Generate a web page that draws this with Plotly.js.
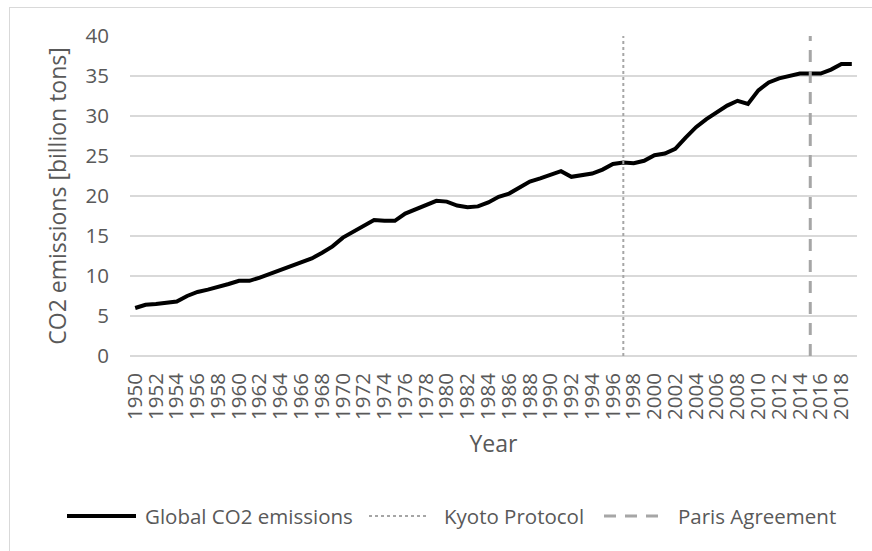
<!DOCTYPE html>
<html>
<head>
<meta charset="utf-8">
<script src="https://cdn.plot.ly/plotly-3.0.1.min.js"></script>
<style>
html,body{margin:0;padding:0;background:#fff;}
#wrap{position:relative;width:872px;height:551px;overflow:hidden;}
#chart{width:872px;height:551px;}
#frame{position:absolute;left:9px;top:7px;width:880px;height:560px;border:1px solid #d9d9d9;pointer-events:none;}
</style>
</head>
<body>
<div id="wrap"><div id="chart"></div><div id="frame"></div></div>
<script>
const years = [];
for (let y = 1950; y <= 2019; y++) years.push(y);
const emissions = [
  6.0, 6.4, 6.5, 6.6, 6.8, 7.5, 8.0, 8.3, 8.6, 9.0,
  9.4, 9.4, 9.8, 10.3, 10.8, 11.3, 11.8, 12.2, 12.9, 13.7,
  14.8, 15.5, 16.2, 17.0, 16.9, 16.9, 17.8, 18.3, 18.9, 19.4,
  19.3, 18.8, 18.6, 18.7, 19.2, 19.9, 20.3, 21.0, 21.8, 22.2,
  22.7, 23.1, 22.4, 22.6, 22.8, 23.3, 24.0, 24.2, 24.1, 24.4,
  25.1, 25.3, 25.9, 27.3, 28.6, 29.6, 30.5, 31.3, 31.9, 31.5,
  33.2, 34.2, 34.7, 35.0, 35.3, 35.3, 35.3, 35.8, 36.5, 36.5
];
const seriesName = 'Global CO2 emissions';
const eventNames = ['Kyoto Protocol', 'Paris Agreement'];
const eventYears = [1997, 2015];
const yTop = 40;

const txt = '#595959';
const font = 'Open Sans, sans-serif';

const mainLine = {color: '#000000', width: 4};
const kyotoLine = {color: '#a6a6a6', width: 2, dash: 'dot'};
const parisLine = {color: '#a6a6a6', width: 3, dash: '12px,9px'};

const traces = [
  {x: years, y: emissions, type: 'scatter', mode: 'lines', name: seriesName, line: mainLine},
  {x: [eventYears[0], eventYears[0]], y: [0, yTop], type: 'scatter', mode: 'lines', name: eventNames[0], line: kyotoLine},
  {x: [eventYears[1], eventYears[1]], y: [0, yTop], type: 'scatter', mode: 'lines', name: eventNames[1], line: parisLine}
];

// Manual legend (decoration), positioned in paper coordinates
const L = 130, W = 727, T = 36, H = 320;
const px = v => (v - L) / W;
const py = v => (T + H - v) / H;
const legY = 516;
const legendItems = [
  {x0: 67, x1: 136, tx: 143, label: seriesName, line: mainLine},
  {x0: 369, x1: 429, tx: 442, label: eventNames[0], line: kyotoLine},
  {x0: 604, x1: 663, tx: 676, label: eventNames[1], line: parisLine}
];
const shapes = legendItems.map(it => ({
  type: 'line', xref: 'paper', yref: 'paper',
  x0: px(it.x0), x1: px(it.x1), y0: py(legY), y1: py(legY),
  line: Object.assign({}, it.line)
}));
const annotations = legendItems.map(it => ({
  xref: 'paper', yref: 'paper', x: px(it.tx), y: py(legY),
  xanchor: 'left', yanchor: 'middle', showarrow: false,
  text: it.label, font: {family: font, size: 20.5, color: txt}
}));

const layout = {
  width: 872, height: 551,
  margin: {l: L, r: 872 - L - W, t: T, b: 551 - T - H},
  paper_bgcolor: '#ffffff', plot_bgcolor: '#ffffff',
  font: {family: font, size: 20, color: txt},
  showlegend: false,
  shapes: shapes,
  annotations: annotations,
  xaxis: {
    type: 'linear', range: [1949.5, 2019.5],
    tick0: 1950, dtick: 2, tickangle: -90,
    showgrid: false, zeroline: false,
    showline: false, ticks: '',
    ticklabelstandoff: 12,
    tickfont: {family: font, size: 20.5, color: txt},
    title: {text: 'Year', font: {family: font, size: 23, color: txt}, standoff: 16},
    automargin: false
  },
  yaxis: {
    range: [0, 40], dtick: 5, tick0: 0,
    showgrid: true, gridcolor: '#d9d9d9', gridwidth: 1.3,
    zeroline: true, zerolinecolor: '#d9d9d9', zerolinewidth: 1.3,
    showline: false, ticks: '',
    ticklabelstandoff: 20,
    tickfont: {family: font, size: 20.5, color: txt},
    title: {text: 'CO2 emissions [billion tons]', font: {family: font, size: 23, color: txt}, standoff: 12},
    automargin: false
  }
};

Plotly.newPlot('chart', traces, layout, {displayModeBar: false, staticPlot: true});
</script>
</body>
</html>
